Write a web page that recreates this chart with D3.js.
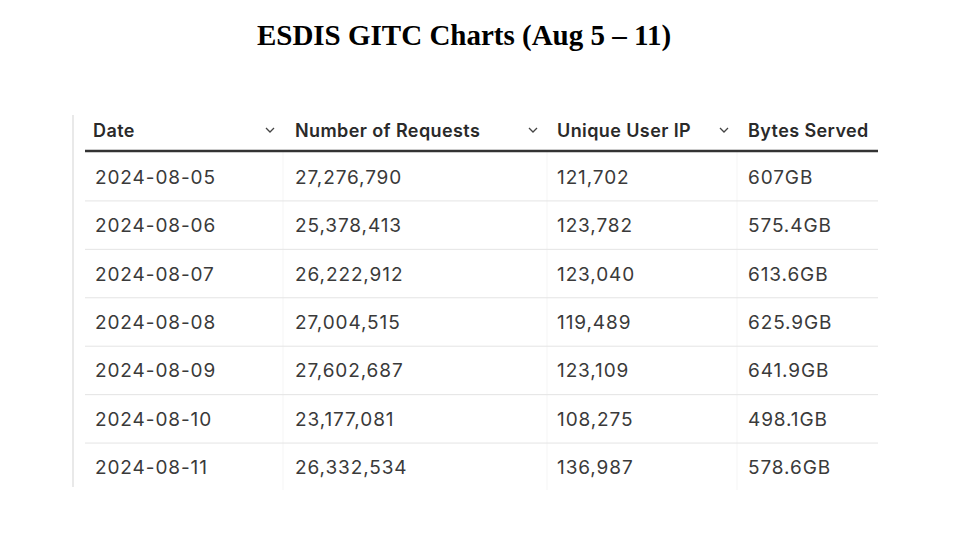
<!DOCTYPE html><html><head><meta charset="utf-8">
<script src="https://cdn.jsdelivr.net/npm/d3@7"></script>
<style>body{margin:0;background:#fff}</style></head><body><svg id="c" width="955" height="543"></svg>
<script>
const columns=["Date","Number of Requests","Unique User IP","Bytes Served"];
const dates=["2024-08-05","2024-08-06","2024-08-07","2024-08-08","2024-08-09","2024-08-10","2024-08-11"];
const requests=[27276790,25378413,26222912,27004515,27602687,23177081,26332534];
const uniqueIPs=[121702,123782,123040,119489,123109,108275,136987];
const bytesServed=["607GB","575.4GB","613.6GB","625.9GB","641.9GB","498.1GB","578.6GB"];

const svg=d3.select("#c");
svg.append("text").attr("x",464).attr("y",45).attr("text-anchor","middle")
 .attr("font-family","Liberation Serif").attr("font-weight","bold").attr("font-size",29).attr("fill","#000")
 .text("ESDIS GITC Charts (Aug 5 – 11)");
const colX=d3.scaleOrdinal().domain(columns).range([93,295,557,748]);
const y=d3.scaleBand().domain(dates).range([152.5,491.5]);
const fmt=d3.format(",");
svg.append("line").attr("x1",73).attr("x2",73).attr("y1",115).attr("y2",487).attr("stroke","#e2e2e2").attr("stroke-width",1.5);
[283,547,737].forEach(x=>svg.append("line").attr("x1",x).attr("x2",x).attr("y1",152).attr("y2",490).attr("stroke","#f5f5f5"));
columns.forEach((c,i)=>{
 svg.append("text").attr("x",colX(c)).attr("y",137).attr("font-family","Inter").attr("font-weight",600)
  .attr("font-size",18).attr("letter-spacing",0.4).attr("fill","#2a2a2a").text(c);
});
[270,533,724].forEach(x=>svg.append("path").attr("d",`M${x-4},${128}L${x},${132}L${x+4},${128}`)
 .attr("fill","none").attr("stroke","#444").attr("stroke-width",1.3));
svg.append("line").attr("x1",85).attr("x2",878).attr("y1",151).attr("y2",151).attr("stroke","#333").attr("stroke-width",2.5);
dates.forEach((d,i)=>{
 const cy=y(d)+y.bandwidth()/2;
 const vals=[d,fmt(requests[i]),fmt(uniqueIPs[i]),bytesServed[i]];
 vals.forEach((v,j)=>svg.append("text").attr("x",colX(columns[j])+(j==0?2:0)).attr("y",cy+7)
  .attr("font-family","Inter").attr("font-size",19).attr("letter-spacing",0.9).attr("fill","#3a3a3a").text(v));
 if(i<dates.length-1) svg.append("line").attr("x1",85).attr("x2",878).attr("y1",y(d)+y.bandwidth()).attr("y2",y(d)+y.bandwidth())
  .attr("stroke","#e4e4e4").attr("stroke-width",1);
});
</script></body></html>
